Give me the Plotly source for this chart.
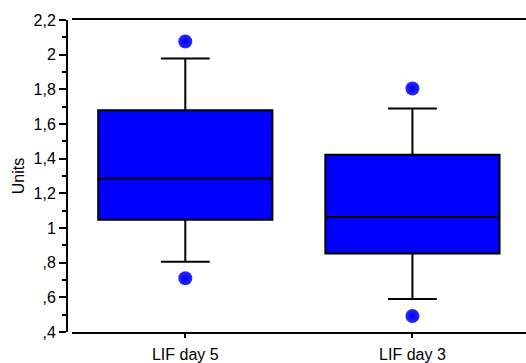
import plotly.graph_objects as go

# Groups and their box statistics
groups = ["LIF day 5", "LIF day 3"]
q1 = [1.047, 0.853]
median = [1.286, 1.063]
q3 = [1.679, 1.423]
lower_whisker = [0.806, 0.591]
upper_whisker = [1.978, 1.689]

# Values beyond the whiskers
outlier_groups = ["LIF day 5", "LIF day 5", "LIF day 3", "LIF day 3"]
outlier_values = [2.076, 0.710, 1.805, 0.492]

# Y-axis ticks (comma decimal separator)
y_tickvals = [0.4, 0.6, 0.8, 1.0, 1.2, 1.4, 1.6, 1.8, 2.0, 2.2]
y_ticktext = [",4", ",6", ",8", "1", "1,2", "1,4", "1,6", "1,8", "2", "2,2"]

FONT = "Arial, Liberation Sans, sans-serif"

fig = go.Figure()

fig.add_trace(go.Box(
    x=groups,
    q1=q1,
    median=median,
    q3=q3,
    lowerfence=lower_whisker,
    upperfence=upper_whisker,
    boxpoints=False,
    fillcolor="#0000ff",
    line=dict(color="black", width=2),
    width=0.767,
    whiskerwidth=0.28,
    showlegend=False,
    hoverinfo="skip",
))

fig.add_trace(go.Scatter(
    x=outlier_groups,
    y=outlier_values,
    mode="markers",
    marker=dict(
        size=14,
        color="#2a2aff",
        gradient=dict(type="radial", color="#0000ee"),
        line=dict(width=0),
    ),
    showlegend=False,
    hoverinfo="skip",
))

fig.update_layout(
    width=526,
    height=363,
    margin=dict(l=67, r=0, t=20, b=31),
    paper_bgcolor="white",
    plot_bgcolor="white",
    font=dict(family=FONT, size=16, color="black"),
    xaxis=dict(
        domain=[0.0103, 1],
        type="category",
        range=[-0.5, 1.5],
        showline=True,
        linecolor="black",
        linewidth=2,
        mirror=True,
        ticks="outside",
        ticklen=4,
        tickwidth=2,
        tickcolor="black",
        ticklabelstandoff=3,
        showgrid=False,
        zeroline=False,
        tickfont=dict(family=FONT, size=16, color="black"),
    ),
    yaxis=dict(
        anchor="free",
        position=0,
        range=[0.4, 2.2],
        tickvals=y_tickvals,
        ticktext=y_ticktext,
        showline=True,
        linecolor="black",
        linewidth=2,
        ticks="outside",
        ticklen=7,
        tickwidth=2,
        tickcolor="black",
        minor=dict(dtick=0.1, ticks="outside", ticklen=4, tickwidth=2, tickcolor="black", showgrid=False),
        showgrid=False,
        zeroline=False,
        tickfont=dict(family=FONT, size=16, color="black"),
        title=dict(text="Units", font=dict(family=FONT, size=16, color="black"), standoff=4),
    ),
)

fig.write_html("out.html")
